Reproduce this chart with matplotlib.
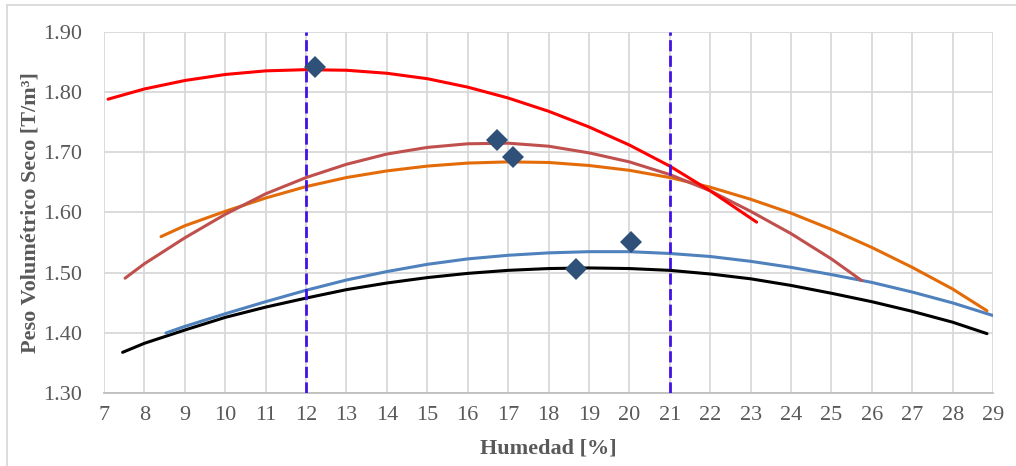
import matplotlib.pyplot as plt
from matplotlib.lines import Line2D

##### Datos #####
# Curvas de compactacion (humedad [%], peso volumetrico seco [T/m3])
x_rojo = [7.1, 8, 9, 10, 11, 12, 13, 14, 15, 16, 17, 18, 19, 20, 21, 22, 23.15]
y_rojo = [1.788, 1.805, 1.819, 1.829, 1.835, 1.837, 1.836, 1.831, 1.822, 1.808,
          1.790, 1.768, 1.742, 1.712, 1.677, 1.636, 1.584]

x_granate = [7.52, 8, 9, 10, 11, 12, 13, 14, 15, 16, 17, 18, 19, 20, 21, 22, 23, 24, 25, 25.75]
y_granate = [1.491, 1.515, 1.558, 1.597, 1.631, 1.658, 1.680, 1.697, 1.708, 1.714,
             1.715, 1.710, 1.699, 1.684, 1.663, 1.636, 1.602, 1.565, 1.523, 1.487]

x_naranja = [8.41, 9, 10, 11, 12, 13, 14, 15, 16, 17, 18, 19, 20, 21, 22, 23, 24, 25, 26, 27, 28, 28.85]
y_naranja = [1.560, 1.578, 1.602, 1.624, 1.643, 1.658, 1.669, 1.677, 1.682, 1.684, 1.683,
             1.678, 1.670, 1.658, 1.642, 1.622, 1.599, 1.572, 1.542, 1.509, 1.473, 1.437]

x_azul = [8.53, 9, 10, 11, 12, 13, 14, 15, 16, 17, 18, 19, 20, 21, 22, 23, 24, 25, 26, 27, 28, 29]
y_azul = [1.400, 1.411, 1.432, 1.452, 1.471, 1.488, 1.502, 1.514, 1.523, 1.529, 1.533,
          1.535, 1.535, 1.532, 1.527, 1.519, 1.509, 1.497, 1.484, 1.468, 1.450, 1.429]

x_negro = [7.46, 8, 9, 10, 11, 12, 13, 14, 15, 16, 17, 18, 19, 20, 21, 22, 23, 24, 25, 26, 27, 28, 28.85]
y_negro = [1.368, 1.383, 1.405, 1.426, 1.443, 1.458, 1.472, 1.483, 1.492, 1.499, 1.504,
           1.507, 1.508, 1.507, 1.504, 1.498, 1.490, 1.479, 1.466, 1.452, 1.436, 1.418, 1.399]

# Puntos optimos de cada ensayo
x_optimos = [12.22, 16.72, 17.11, 18.68, 20.04]
y_optimos = [1.841, 1.721, 1.692, 1.506, 1.551]

# Limites de humedad
humedad_limites = [12, 21]

x_ticks = list(range(7, 30))
y_ticks = [1.30, 1.40, 1.50, 1.60, 1.70, 1.80, 1.90]

##### Estilo #####
plt.rcParams['font.family'] = ['Liberation Serif', 'DejaVu Serif']
gris_texto = '#595959'
gris_grid = '#D9D9D9'
estilo_curva = dict(lw=2.2, solid_joinstyle='round', solid_capstyle='round')

fig = plt.figure(figsize=(10.16, 4.66), dpi=100)
ax = fig.add_axes([0.1024, 0.156, 0.875, 0.776])

# Curvas
ax.plot(x_negro, y_negro, color='#000000', zorder=3, **estilo_curva)
ax.plot(x_azul, y_azul, color='#4F81BD', zorder=3, **estilo_curva)
ax.plot(x_naranja, y_naranja, color='#E36C09', zorder=3, **estilo_curva)
ax.plot(x_granate, y_granate, color='#C0504D', zorder=4, **estilo_curva)
ax.plot(x_rojo, y_rojo, color='#FF0000', zorder=5, **estilo_curva)

# Lineas verticales de humedad
for xv in humedad_limites:
    ax.axvline(xv, color='#4112E6', lw=2.0, dashes=(4, 1.6), zorder=6)

# Optimos
ax.plot(x_optimos, y_optimos, linestyle='none', marker='D', markersize=11.5,
        color='#2E5079', markeredgewidth=0, zorder=7)

# Ejes
ax.set_xlim(7, 29)
ax.set_ylim(1.30, 1.90)
ax.set_xticks(x_ticks)
ax.set_yticks(y_ticks)
ax.set_yticklabels([f'{v:.2f}' for v in y_ticks])
ax.grid(True, color=gris_grid, lw=1.3, zorder=0)
ax.set_axisbelow(True)
for lado in ['top', 'right', 'left']:
    ax.spines[lado].set_visible(False)
ax.spines['bottom'].set_color('#BFBFBF')
ax.spines['bottom'].set_linewidth(1.3)
ax.tick_params(axis='both', length=0, labelsize=16, labelcolor=gris_texto)
ax.tick_params(axis='y', pad=16)
ax.tick_params(axis='x', pad=9)

ax.set_xlabel('Humedad [%]', fontsize=16, fontweight='bold', color=gris_texto, labelpad=10)
ax.set_ylabel('Peso Volumétrico Seco [T/m³]', fontsize=16, fontweight='bold',
              color=gris_texto, labelpad=2)

# Borde del area del grafico
fig.add_artist(Line2D([0.0069, 0.0069], [0.0, 0.989], color=gris_grid, lw=1.3,
                      transform=fig.transFigure))
fig.add_artist(Line2D([0.0069, 1.0], [0.989, 0.989], color=gris_grid, lw=1.3,
                      transform=fig.transFigure))

plt.savefig('out.png', dpi=100)
plt.close()
